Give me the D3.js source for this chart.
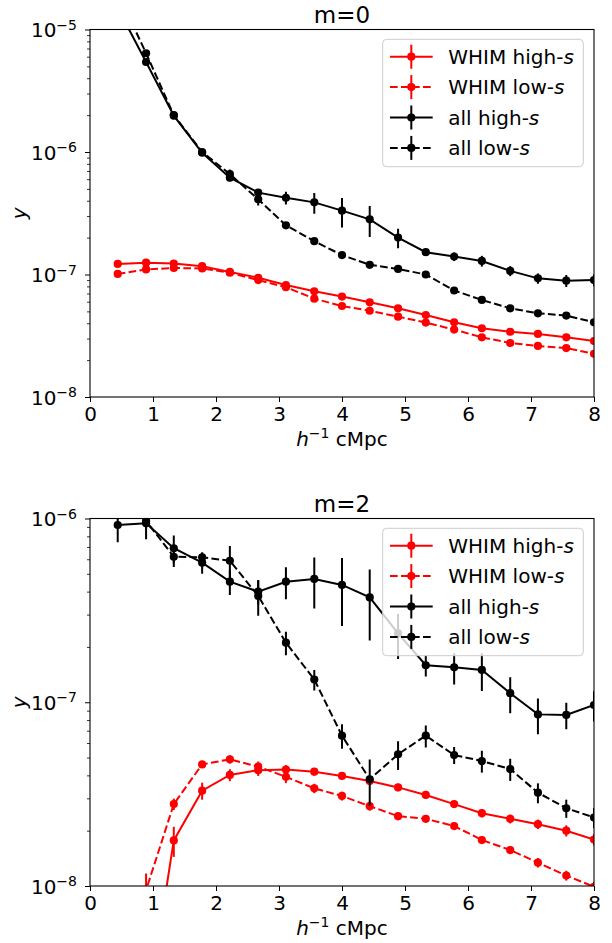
<!DOCTYPE html>
<html><head><meta charset="utf-8">
<script src="https://cdn.jsdelivr.net/npm/d3@7"></script>
<style>body{margin:0;background:#fff}svg{display:block}text{font-family:"DejaVu Sans",sans-serif}</style>
</head><body>
<svg id="chart" width="612" height="943"></svg>
<script>
// ---------------- data ----------------
const xVals = [0.44,0.89,1.33,1.78,2.22,2.67,3.11,3.56,4.00,4.44,4.89,5.33,5.78,6.22,6.67,7.11,7.56,8.00];
const xTicks = [0,1,2,3,4,5,6,7,8];
const seriesLabels = ["WHIM high-", "WHIM low-", "all high-", "all low-"];
const panelTitles = ["m=0", "m=2"];

// m=0
const m0WhimHigh    = [1.22e-7,1.25e-7,1.23e-7,1.17e-7,1.05e-7,9.4e-8,8.2e-8,7.3e-8,6.6e-8,5.93e-8,5.3e-8,4.67e-8,4.07e-8,3.64e-8,3.41e-8,3.27e-8,3.07e-8,2.86e-8];
const m0WhimHighErr = [2e-9,2e-9,2e-9,2e-9,2e-9,2e-9,1.5e-9,1.5e-9,1.5e-9,1.2e-9,1.2e-9,1e-9,1e-9,1e-9,1e-9,1e-9,1e-9,1e-9];
const m0WhimLow     = [1.01e-7,1.10e-7,1.13e-7,1.12e-7,1.035e-7,9.0e-8,7.87e-8,6.35e-8,5.53e-8,5.06e-8,4.53e-8,4.05e-8,3.55e-8,3.07e-8,2.76e-8,2.61e-8,2.51e-8,2.25e-8];
const m0WhimLowErr  = [2e-9,2e-9,2e-9,2e-9,2e-9,2e-9,1.5e-9,1.5e-9,1.2e-9,1.2e-9,1e-9,1e-9,1e-9,1e-9,8e-10,8e-10,8e-10,8e-10];
const m0AllHigh     = [1.5e-5,5.43e-6,1.98e-6,9.86e-7,6.17e-7,4.66e-7,4.23e-7,3.88e-7,3.32e-7,2.82e-7,2.0e-7,1.52e-7,1.40e-7,1.29e-7,1.07e-7,9.3e-8,8.9e-8,9.0e-8];
const m0AllHighErr  = [3e-7,1e-7,4e-8,3e-8,4e-8,3e-8,5e-8,7.5e-8,9e-8,8e-8,3.6e-8,1e-8,1.1e-8,1.3e-8,1e-8,9e-9,1e-8,1e-8];
const m0AllLow      = [2.0e-5,6.4e-6,2.0e-6,1.0e-6,6.6e-7,4.11e-7,2.52e-7,1.87e-7,1.44e-7,1.20e-7,1.11e-7,1.0e-7,7.4e-8,6.2e-8,5.3e-8,4.82e-8,4.62e-8,4.07e-8];
const m0AllLowErr   = [3e-7,1e-7,3e-8,2e-8,6e-8,4.5e-8,1e-8,8e-9,6e-9,7e-9,4e-9,3e-9,2e-9,2e-9,1.5e-9,1.5e-9,1.5e-9,1.2e-9];

// m=2
const m2WhimHigh    = [5e-10,1.9e-9,1.77e-8,3.3e-8,4.02e-8,4.27e-8,4.3e-8,4.19e-8,3.97e-8,3.73e-8,3.44e-8,3.13e-8,2.79e-8,2.49e-8,2.32e-8,2.17e-8,2.0e-8,1.79e-8];
const m2WhimHighErr = [2e-10,5e-10,3.3e-9,3.5e-9,3e-9,3e-9,2.5e-9,2e-9,2e-9,1.8e-9,1.6e-9,1.4e-9,1.3e-9,1.3e-9,1.3e-9,1.3e-9,1.4e-9,1.3e-9];
const m2WhimLow     = [1e-9,9.5e-9,2.79e-8,4.59e-8,4.89e-8,4.46e-8,3.93e-8,3.4e-8,3.09e-8,2.72e-8,2.4e-8,2.32e-8,2.12e-8,1.78e-8,1.57e-8,1.34e-8,1.14e-8,9.9e-9];
const m2WhimLowErr  = [3e-10,2.2e-9,2e-9,2e-9,2.5e-9,3e-9,3e-9,2e-9,1.7e-9,1.5e-9,1.2e-9,1e-9,1e-9,9e-10,8e-10,8e-10,7e-10,6e-10];
const m2AllHigh     = [9.22e-7,9.41e-7,6.89e-7,5.75e-7,4.53e-7,4.0e-7,4.53e-7,4.69e-7,4.35e-7,3.72e-7,2.37e-7,1.59e-7,1.55e-7,1.50e-7,1.12e-7,8.59e-8,8.53e-8,9.66e-8];
const m2AllHighErr  = [1.8e-7,1.7e-7,1.2e-7,7.5e-8,7e-8,6e-8,9e-8,1.45e-7,1.75e-7,1.55e-7,6.5e-8,2.1e-8,3e-8,3.5e-8,2.5e-8,1.9e-8,1.4e-8,1.8e-8];
const m2AllLow      = [1.6e-6,9.7e-7,6.19e-7,6.15e-7,5.89e-7,3.79e-7,2.11e-7,1.33e-7,6.58e-8,3.81e-8,5.21e-8,6.58e-8,5.16e-8,4.79e-8,4.33e-8,3.22e-8,2.65e-8,2.36e-8];
const m2AllLowErr   = [2e-7,1e-7,7.5e-8,4e-8,1.2e-7,8.3e-8,3.1e-8,1.7e-8,1.0e-8,1.07e-8,9.3e-9,9e-9,5.5e-9,6.5e-9,6e-9,4e-9,3e-9,3e-9];

// ---------------- layout / style ----------------
const RED = "#ff0000", BLACK = "#000000";
const DASH = "7.7,3.3";
const LW = 2, R = 4.1;
const seriesStyles = [
  {color: RED, dash: null}, {color: RED, dash: DASH},
  {color: BLACK, dash: null}, {color: BLACK, dash: DASH}
];
const panels = [
  {title: panelTitles[0], domain: [1e-8, 1e-5], top: 29.5, bottom: 397,
   vals: [m0WhimHigh, m0WhimLow, m0AllHigh, m0AllLow], errs: [m0WhimHighErr, m0WhimLowErr, m0AllHighErr, m0AllLowErr]},
  {title: panelTitles[1], domain: [1e-8, 1e-6], top: 518.5, bottom: 886,
   vals: [m2WhimHigh, m2WhimLow, m2AllHigh, m2AllLow], errs: [m2WhimHighErr, m2WhimLowErr, m2AllHighErr, m2AllLowErr]}
];
const LEFT = 90, RIGHT = 594;
const svg = d3.select("#chart");
const x = d3.scaleLinear().domain([0, 8]).range([LEFT, RIGHT]);

panels.forEach((p, pi) => {
  const y = d3.scaleLog().domain(p.domain).range([p.bottom, p.top]);
  const g = svg.append("g");
  const clipId = "clip" + pi;
  svg.append("clipPath").attr("id", clipId).append("rect")
    .attr("x", LEFT).attr("y", p.top).attr("width", RIGHT - LEFT).attr("height", p.bottom - p.top);
  const plot = g.append("g").attr("clip-path", `url(#${clipId})`);

  p.vals.forEach((vals, si) => {
    const st = seriesStyles[si];
    const errs = p.errs[si];
    const pts = xVals.map((xv, i) => ({x: xv, v: vals[i], e: errs[i]}));
    const line = d3.line().x(d => x(d.x)).y(d => y(d.v));
    plot.append("path").datum(pts).attr("d", line)
      .attr("fill", "none").attr("stroke", st.color).attr("stroke-width", LW)
      .attr("stroke-dasharray", st.dash);
    plot.selectAll(null).data(pts).enter().append("line")
      .attr("x1", d => x(d.x)).attr("x2", d => x(d.x))
      .attr("y1", d => y(Math.max(d.v - d.e, 1e-14))).attr("y2", d => y(d.v + d.e))
      .attr("stroke", st.color).attr("stroke-width", LW);
    plot.selectAll(null).data(pts).enter().append("circle")
      .attr("cx", d => x(d.x)).attr("cy", d => y(d.v)).attr("r", R).attr("fill", st.color);
  });

  // x axis
  const xa = g.append("g").attr("transform", `translate(0,${p.bottom})`)
    .call(d3.axisBottom(x).tickValues(xTicks).tickSize(5).tickPadding(5).tickFormat(d3.format("d")));
  xa.select(".domain").remove();
  xa.selectAll("line").attr("stroke-width", 1);
  xa.selectAll("text").attr("font-size", 20).attr("fill", "#000").attr("dy", "0.71em");

  // y axis major
  const [lo, hi] = p.domain;
  const majors = [];
  for (let e = Math.round(Math.log10(lo)); e <= Math.round(Math.log10(hi)); e++) majors.push(Math.pow(10, e));
  const minors = [];
  majors.slice(0, -1).forEach(m => { for (let k = 2; k <= 9; k++) minors.push(m * k); });
  const ya = g.append("g").attr("transform", `translate(${LEFT},0)`)
    .call(d3.axisLeft(y).tickValues(majors).tickSize(5).tickPadding(8).tickFormat(""));
  ya.select(".domain").remove();
  ya.selectAll("line").attr("stroke-width", 1);
  ya.selectAll(".tick text").each(function(d) {
    const t = d3.select(this).attr("font-size", 20).attr("fill", "#000").attr("dy", "0.36em");
    t.append("tspan").text("10");
    t.append("tspan").attr("font-size", 14).attr("dy", "-0.55em").text("\u2212" + Math.round(-Math.log10(d)));
  });
  const ym = g.append("g").attr("transform", `translate(${LEFT},0)`)
    .call(d3.axisLeft(y).tickValues(minors).tickSize(3).tickFormat(""));
  ym.select(".domain").remove();
  ym.selectAll("line").attr("stroke-width", 0.8);

  // spines
  g.append("rect").attr("x", LEFT).attr("y", p.top).attr("width", RIGHT - LEFT).attr("height", p.bottom - p.top)
    .attr("fill", "none").attr("stroke", "#000").attr("stroke-width", 1.1);

  // title
  g.append("text").attr("x", (LEFT + RIGHT) / 2).attr("y", p.top - 6.2).attr("text-anchor", "middle")
    .attr("font-size", 23).text(p.title);

  // x label
  const xl = g.append("text").attr("x", (LEFT + RIGHT) / 2).attr("y", p.bottom + 49).attr("text-anchor", "middle").attr("font-size", 20);
  xl.append("tspan").attr("font-style", "italic").text("h");
  xl.append("tspan").attr("font-size", 14).attr("dy", "-0.55em").text("\u22121");
  xl.append("tspan").attr("dy", "0.385em").text(" cMpc");

  // y label
  const yc = (p.top + p.bottom) / 2;
  g.append("text").attr("transform", `translate(26,${yc}) rotate(-90)`).attr("text-anchor", "middle")
    .attr("font-size", 20).attr("font-style", "italic").text("y");

  // legend
  const lx = 382.7, ly = p.top + 9.8, lw = 200.6, lh = 127.4;
  const lg = g.append("g");
  lg.append("rect").attr("x", lx).attr("y", ly).attr("width", lw).attr("height", lh).attr("rx", 4)
    .attr("fill", "#fff").attr("fill-opacity", 0.8).attr("stroke", "#cccccc").attr("stroke-width", 1);
  seriesLabels.forEach((lab, si) => {
    const st = seriesStyles[si];
    const cy = ly + 17.4 + si * 30.4;
    lg.append("line").attr("x1", 390).attr("x2", 432.7).attr("y1", cy).attr("y2", cy)
      .attr("stroke", st.color).attr("stroke-width", LW).attr("stroke-dasharray", st.dash);
    lg.append("line").attr("x1", 411.3).attr("x2", 411.3).attr("y1", cy - 12).attr("y2", cy + 12)
      .attr("stroke", st.color).attr("stroke-width", LW);
    lg.append("circle").attr("cx", 411.3).attr("cy", cy).attr("r", R).attr("fill", st.color);
    const t = lg.append("text").attr("x", 448.3).attr("y", cy + 7.3).attr("font-size", 20);
    t.append("tspan").text(lab);
    t.append("tspan").attr("font-style", "italic").text("s");
  });
});
</script>
</body></html>
